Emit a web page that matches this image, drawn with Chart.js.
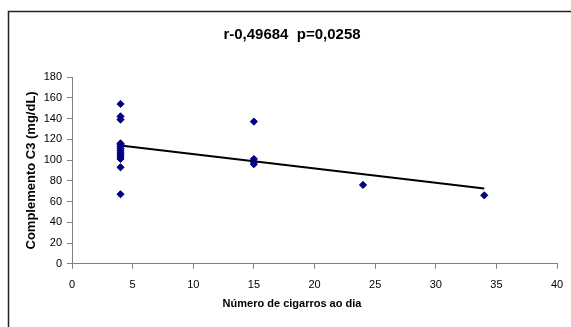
<!DOCTYPE html>
<html>
<head>
<meta charset="utf-8">
<script src="https://cdn.jsdelivr.net/npm/chart.js@4/dist/chart.umd.min.js"></script>
<style>
  html, body { margin: 0; padding: 0; background: #fff; }
  #wrap { width: 571px; height: 327px; position: relative; }
</style>
</head>
<body>
<div id="wrap"><canvas id="c" width="571" height="327"></canvas></div>
<script>
// Cigarettes smoked per day vs. complement C3 level (mg/dL)
const cigarrosDia = [4, 4, 4, 4, 4, 4, 4, 4, 4, 4, 4, 4, 4, 4, 15, 15, 15, 15, 24, 34];
const complementoC3 = [154, 142, 139, 116, 115, 113, 111, 109, 107, 105, 103, 101, 93, 67, 137, 101, 98, 96, 76, 66];

const chartTitle = 'r-0,49684  p=0,0258';
const xAxisTitle = 'Número de cigarros ao dia';
const yAxisTitle = 'Complemento C3 (mg/dL)';
const xTicks = { min: 0, max: 40, step: 5 };
const yTicks = { min: 0, max: 180, step: 20 };

const points = cigarrosDia.map((x, i) => ({ x, y: complementoC3[i] }));

// Least-squares trend line across the observed range of x
function linearFit(xs, ys) {
  const n = xs.length;
  const mx = xs.reduce((a, b) => a + b, 0) / n;
  const my = ys.reduce((a, b) => a + b, 0) / n;
  let sxy = 0, sxx = 0;
  for (let i = 0; i < n; i++) {
    sxy += (xs[i] - mx) * (ys[i] - my);
    sxx += (xs[i] - mx) ** 2;
  }
  const slope = sxy / sxx;
  return { slope, intercept: my - slope * mx };
}
const fit = linearFit(cigarrosDia, complementoC3);
const xMin = Math.min(...cigarrosDia), xMax = Math.max(...cigarrosDia);
const trend = [xMin, xMax].map(x => ({ x, y: fit.intercept + fit.slope * x }));

// Outer frame around the chart
const framePlugin = {
  id: 'frame',
  beforeDraw(chart) {
    const ctx = chart.ctx;
    ctx.save();
    ctx.fillStyle = '#fff';
    ctx.fillRect(0, 0, chart.width, chart.height);
    ctx.strokeStyle = '#222';
    ctx.lineWidth = 1.5;
    ctx.beginPath();
    ctx.moveTo(8.5, chart.height);
    ctx.lineTo(8.5, 11.5);
    ctx.lineTo(chart.width, 11.5);
    ctx.stroke();
    ctx.restore();
  }
};

const FONT = 'Arial, "Liberation Sans", sans-serif';
const axisColor = '#808080';

new Chart(document.getElementById('c'), {
  type: 'scatter',
  data: {
    datasets: [
      {
        label: 'C3',
        data: points,
        pointStyle: 'rectRot',
        radius: 3.6,
        backgroundColor: '#000080',
        borderColor: '#000080',
        borderWidth: 1,
        order: 1
      },
      {
        type: 'line',
        label: 'Linear',
        data: trend,
        borderColor: '#000',
        borderWidth: 2,
        pointRadius: 0,
        fill: false,
        order: 2
      }
    ]
  },
  options: {
    responsive: false,
    animation: false,
    layout: { padding: { left: 13, right: 0, top: 0, bottom: 0 } },
    plugins: {
      legend: { display: false },
      tooltip: { enabled: false },
      title: {
        display: true,
        text: chartTitle,
        color: '#000',
        font: { family: FONT, size: 15, weight: 'bold' },
        padding: { top: 26, bottom: 33 }
      },
      subtitle: {
        display: true,
        position: 'bottom',
        text: xAxisTitle,
        color: '#000',
        font: { family: FONT, size: 11, weight: 'bold' },
        padding: { top: 3, bottom: 16 }
      }
    },
    scales: {
      x: {
        type: 'linear',
        min: xTicks.min,
        max: xTicks.max,
        afterFit: s => { s.height = 31; s.paddingRight = 14; },
        ticks: {
          stepSize: xTicks.step,
          color: '#000',
          padding: 10,
          font: { family: FONT, size: 11 }
        },
        grid: { drawOnChartArea: false, drawTicks: true, tickLength: 5, color: axisColor },
        border: { color: axisColor, width: 1 }
      },
      y: {
        type: 'linear',
        min: yTicks.min,
        max: yTicks.max,
        afterFit: s => { s.width = 59; },
        ticks: {
          stepSize: yTicks.step,
          color: '#000',
          padding: 5,
          font: { family: FONT, size: 11 }
        },
        grid: { drawOnChartArea: false, drawTicks: true, tickLength: 5, color: axisColor },
        border: { color: axisColor, width: 1 },
        title: {
          display: true,
          text: yAxisTitle,
          color: '#000',
          font: { family: FONT, size: 13, weight: 'bold' },
          padding: { top: 11, bottom: 0 }
        }
      }
    }
  },
  plugins: [framePlugin]
});
</script>
</body>
</html>
